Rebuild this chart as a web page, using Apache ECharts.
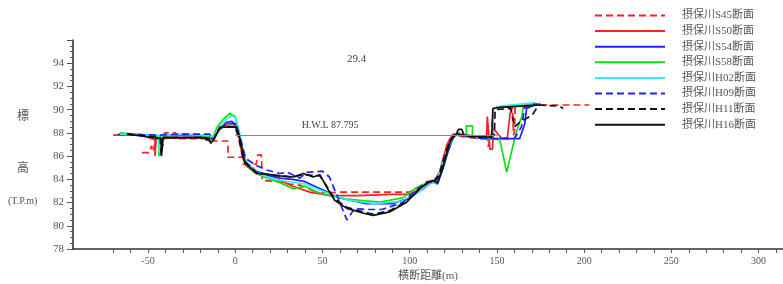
<!DOCTYPE html>
<html>
<head>
<meta charset="utf-8">
<script src="https://cdn.jsdelivr.net/npm/echarts@6/dist/echarts.min.js"></script>
<style>
html, body { margin: 0; padding: 0; background: #fff; }
#chart { width: 783px; height: 284px; }
</style>
</head>
<body>
<div id="chart"></div>
<script>
// 断面データ [横断距離(m), 標高(T.P.m)]
var s45 = [[-53.5,86.3],[-49,86.3],[-48,86.9],[-47,86.4],[-46,86.4],[-45.5,87.5],[-41,87.6],[-40.5,88],[-34,88],[-33.5,87.5],[-13,87.5],[-12,87.3],[-4.2,87.3],[-4.2,85.9],[4.5,85.9],[4.5,85.3],[12,85.3],[13,86.1],[15,86.1],[15.5,83.9],[25,83.8],[31,83.6],[37,83.5],[48.5,82.8],[60,82.9],[80,82.9],[100,82.9],[105.8,83.4],[110,83.8],[113,83.9],[116,83.9],[118,85],[121,86.8],[123,87.5],[126,87.9],[130,87.7],[135,87.6],[140,87.6],[144,87.5],[144.5,88.8],[145,86.8],[146,86.8],[147,88],[148,90.2],[159,90.2],[159.5,87.8],[160,88],[160.5,90.3],[175,90.4],[203,90.4]];
var s50 = [[-70,87.8],[-53.5,87.8],[-46,87.4],[-46,86],[-45.3,86],[-45.3,87.5],[-30,87.6],[-15,87.6],[-13,87.4],[-9,88.3],[-4,88.8],[-1,88.8],[2,87.8],[4,86],[6,85.2],[12,84.5],[20,84.1],[25.6,83.9],[33,83.4],[42.8,82.9],[54.3,82.6],[70,82.6],[90,82.7],[100,82.7],[105.8,83.2],[110,83.7],[114,83.8],[117,84.6],[120,86.2],[122,87.2],[125,87.9],[130,87.7],[140,87.6],[144,87.6],[144.5,89.4],[145.5,89.4],[146,86.6],[147.5,86.6],[148,88.4],[151,87.8],[153,87.5],[156,87.6],[157.5,89.6],[159,90.3],[175,90.5]];
var s54 = [[-67,87.9],[-50,87.8],[-45,87.7],[-30,87.8],[-15,87.7],[-13,87.5],[-9,88.3],[-5,88.9],[-2,89],[1,88.6],[3,87.4],[6,85.5],[12,84.7],[20,84.3],[25.6,84.1],[33,84],[40,83.8],[50,83.1],[60,82.4],[75,81.9],[90,81.9],[100,82.4],[108,83.2],[113,83.8],[116,83.6],[119,84.9],[122,86.4],[125,87.6],[128,88],[132,87.8],[138,87.6],[146,87.5],[163,87.5],[166,88.8],[167,90.1],[173,90.5]];
var s58 = [[-66,88],[-50,87.8],[-44,87.7],[-43.8,86],[-43,86],[-42.8,87.7],[-30,87.9],[-15,87.7],[-13,87.6],[-10,88.6],[-6,89.3],[-3,89.7],[0,89.4],[2,88.2],[4,86.5],[6,85.3],[10,84.7],[15,84.3],[20,84],[25.6,83.7],[33,83.2],[40,83.4],[48.5,82.8],[63.9,82.3],[82.9,82.05],[96,82.4],[104,83.3],[110,83.7],[113,83.9],[116,83.8],[119,85.1],[122,86.7],[125,87.6],[128,87.9],[132.5,87.9],[132.5,88.6],[136,88.6],[136,87.7],[140,87.6],[151.7,87.4],[155.6,84.6],[159.2,86.9],[162,88.5],[164.3,89.4],[165,90.2],[171.7,90.6]];
var h02 = [[-66,87.9],[-50,87.8],[-44,87.8],[-43.5,86.3],[-43,86.3],[-42.7,87.8],[-30,87.9],[-15,87.8],[-12,87.7],[-9,88.5],[-5,89.2],[-2,89.5],[0,89.3],[2.5,88],[5,86],[7,85.4],[12,84.6],[20,84.1],[25.6,83.9],[40,83.6],[50,83],[65,82.2],[80,81.9],[95,82.1],[105,82.9],[112,83.7],[115,83.7],[118,84.9],[121,86.3],[124,87.5],[128,88],[135,87.7],[146,87.6],[147.5,87.7],[148,90.1],[152,90.3],[165,90.5],[172,90.6]];
var h09 = [[-62,87.9],[-45,87.8],[-30,87.9],[-15,87.9],[-12,87.6],[-9,88.3],[-5,88.8],[0,88.8],[3,87.5],[6,85.8],[12,85.2],[18,84.8],[25.6,84.5],[30,84.6],[37,84.1],[41,84.6],[50,84.7],[54,84.2],[64,80.5],[68.5,81.5],[75,81.4],[84,81.4],[96,82],[104,83.1],[110,83.8],[114,83.7],[117,84.3],[120,85.8],[123,87.2],[126,87.9],[130,87.8],[140,87.5],[160,87.5],[164,88.5],[166,90.2],[172,90.5]];
var h11 = [[-62,87.9],[-43,87.6],[-42.5,86.1],[-41.5,86.1],[-41,87.6],[-20,87.6],[-14.5,87.3],[-13.5,87.1],[-9,88.4],[-5,88.6],[0,88.5],[2,87.5],[5,85.6],[12,84.6],[20,84.4],[25.6,84.3],[33,84.2],[39,84.4],[48.5,84.3],[52.5,83.4],[57,82.3],[64,81.6],[73,81.2],[79,81],[88.7,81.3],[98,82.1],[105.8,83.2],[110.5,83.7],[114,83.9],[117,84.4],[120,86],[123,87.3],[126,88],[130,87.8],[140,87.6],[148.5,87.8],[149,90],[158,90.1],[160,88.5],[163,88.9],[170,89.5],[174,90.4],[186,90.3],[188,90.1]];
var h16 = [[-61.5,87.9],[-42.5,87.5],[-42.3,86],[-41.5,86],[-41.3,87.6],[-20,87.6],[-15,87.5],[-14,87.1],[-12,87.5],[-8.8,88.5],[1,88.5],[3,87.3],[5.6,85.4],[12.4,84.5],[20,84.4],[25.6,84.3],[33,84.2],[39,84.5],[44.6,84.2],[48.5,84.4],[52.5,83.3],[57,82.2],[64,81.5],[73,81.1],[79,80.9],[88.7,81.2],[98,82],[105.8,83.2],[110.5,83.7],[113,83.9],[116,83.7],[119,85],[123,87.2],[127,88],[128,88.3],[130,88.3],[131,87.8],[140,87.7],[147,87.6],[147.7,90.1],[151.7,90.2],[174.6,90.4]];

var names = ['摂保川S45断面','摂保川S50断面','摂保川S54断面','摂保川S58断面','摂保川H02断面','摂保川H09断面','摂保川H11断面','摂保川H16断面'];
var hwl = 87.795;
var hwlFrom = 0, hwlTo = 150;
var xLabels = [-50,0,50,100,150,200,250,300];
var xTicks = [-70,-60,-50,-40,-30,-20,-10,0,10,20,30,40,50,60,70,80,90,100,110,120,130,140,150,160,170,180,190,200,210,220,230,240,250,260,270,280,290,300,310];

var fontFam = '"Liberation Serif", "Noto Sans CJK JP", serif';
var dash = [7, 4];

function line(name, data, color, dashed) {
  return {
    name: name,
    type: 'line',
    data: data,
    symbol: 'none',
    animation: false,
    lineStyle: { color: color, width: 1.7, type: dashed ? dash : 'solid' },
    itemStyle: { color: color }
  };
}

var chart = echarts.init(document.getElementById('chart'));
var option = {
  backgroundColor: '#fff',
  animation: false,
  title: {
    text: '29.4',
    left: 342, top: 49,
    textStyle: { fontFamily: fontFam, fontSize: 11, fontWeight: 'normal', color: '#444' }
  },
  legend: {
    data: names,
    orient: 'vertical',
    left: 589, top: 5,
    itemWidth: 70, itemHeight: 12, itemGap: 4.6,
    itemStyle: { opacity: 0 },
    textStyle: { fontFamily: fontFam, fontSize: 11, color: '#555', padding: [0, 0, 0, 12] }
  },
  grid: { left: 73, right: 0, top: 40, bottom: 35, outerBoundsMode: 'none', containLabel: false },
  xAxis: {
    type: 'value',
    min: -93, max: 314,
    name: '横断距離(m)',
    nameLocation: 'middle',
    nameGap: 21,
    nameTextStyle: { fontFamily: fontFam, fontSize: 11, color: '#555' },
    axisLine: { onZero: false, lineStyle: { color: '#333', width: 1.6 } },
    axisTick: { customValues: xTicks, length: 4, lineStyle: { color: '#555' } },
    axisLabel: { customValues: xLabels, fontFamily: fontFam, fontSize: 10, color: '#555', margin: 7 },
    splitLine: { show: false }
  },
  yAxis: {
    type: 'value',
    min: 78, max: 96, interval: 2,
    axisLine: { show: true, onZero: false, lineStyle: { color: '#333', width: 1.6 } },
    axisTick: { show: true, length: 6, lineStyle: { color: '#555' } },
    minorTick: { show: true, splitNumber: 4, length: 3, lineStyle: { color: '#555' } },
    axisLabel: { showMaxLabel: false, fontFamily: fontFam, fontSize: 11, color: '#555', margin: 9 },
    splitLine: { show: false }
  },
  graphic: [
    { type: 'text', left: 17, top: 111, style: { text: '標', font: '12px ' + fontFam, fill: '#555' } },
    { type: 'text', left: 17, top: 163, style: { text: '高', font: '12px ' + fontFam, fill: '#555' } },
    { type: 'text', left: 8, top: 196, style: { text: '(T.P.m)', font: '10px ' + fontFam, fill: '#555' } }
  ],
  series: [
    {
      name: 'HWL',
      type: 'line',
      data: [],
      silent: true,
      markLine: {
        silent: true,
        symbol: 'none',
        animation: false,
        lineStyle: { color: '#888', width: 1, type: 'solid' },
        label: {
          show: true,
          position: 'insideMiddleTop',
          offset: [-36, 0],
          formatter: 'H.W.L ' + hwl,
          fontFamily: fontFam, fontSize: 10, color: '#444'
        },
        data: [[{ coord: [hwlFrom, hwl] }, { coord: [hwlTo, hwl] }]]
      }
    },
    line(names[0], s45, '#ff2020', true),
    line(names[1], s50, '#ff2020', false),
    line(names[2], s54, '#2020ff', false),
    line(names[3], s58, '#10e010', false),
    line(names[4], h02, '#30f0f0', false),
    line(names[5], h09, '#2020ff', true),
    line(names[6], h11, '#111111', true),
    line(names[7], h16, '#111111', false)
  ]
};
chart.setOption(option);
</script>
</body>
</html>
